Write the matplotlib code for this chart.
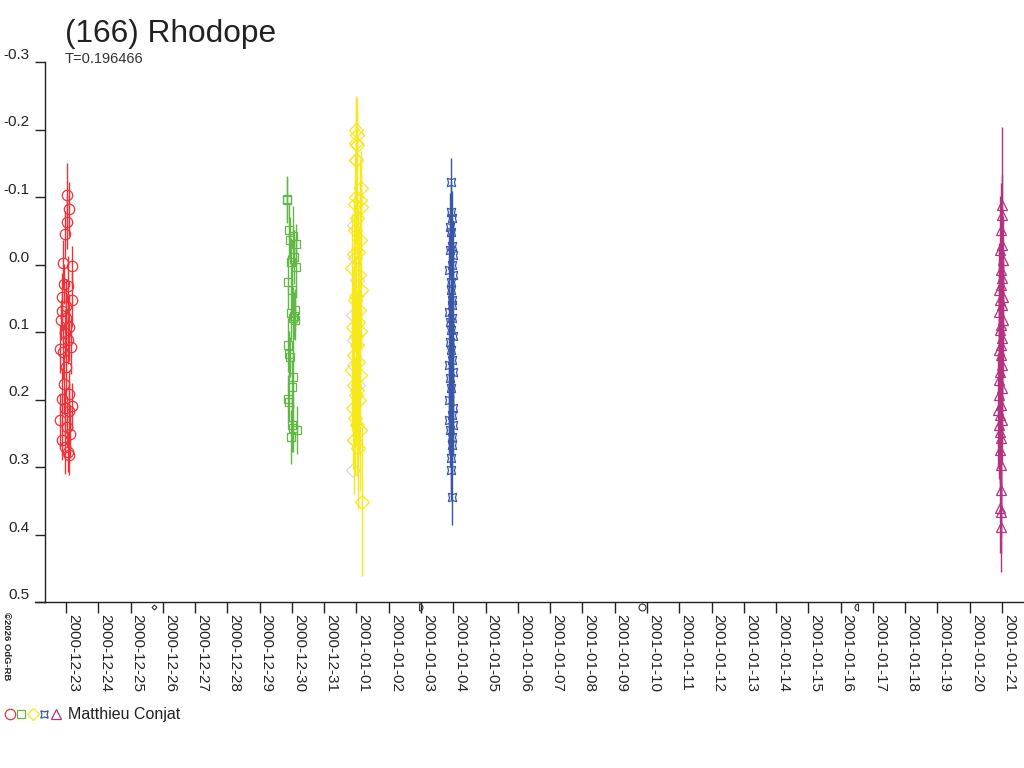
import numpy as np
import matplotlib
matplotlib.use("Agg")
import matplotlib.pyplot as plt
import matplotlib.dates as mdates
from matplotlib.path import Path
from matplotlib.transforms import blended_transform_factory

plt.rcParams['font.family'] = ['Liberation Sans', 'DejaVu Sans']

# ---------------- data ----------------
title = "(166) Rhodope"
subtitle = "T=0.196466"
observer = "Matthieu Conjat"
copyright_txt = "©2026 OdG-RB"

tick_dates = ['2000-12-23', '2000-12-24', '2000-12-25', '2000-12-26', '2000-12-27',
              '2000-12-28', '2000-12-29', '2000-12-30', '2000-12-31', '2001-01-01',
              '2001-01-02', '2001-01-03', '2001-01-04', '2001-01-05', '2001-01-06',
              '2001-01-07', '2001-01-08', '2001-01-09', '2001-01-10', '2001-01-11',
              '2001-01-12', '2001-01-13', '2001-01-14', '2001-01-15', '2001-01-16',
              '2001-01-17', '2001-01-18', '2001-01-19', '2001-01-20', '2001-01-21']
y_ticks = [-0.3, -0.2, -0.1, 0.0, 0.1, 0.2, 0.3, 0.4, 0.5]

# moon phases (new, first quarter, full, last quarter)
moon_times = ['2000-12-25T17:22', '2001-01-02T22:31', '2001-01-09T20:24', '2001-01-16T12:35']
moon_kinds = ['new', 'first', 'full', 'last']

# session 1 (red circles) - hours from night reference
red_night = '2000-12-23T00:00'
red_hours = [-4.4, -4.1, -3.5, -3.3, -3.0, -2.6, -2.4, -2.0, -1.8, -1.5, -1.1, -0.9,
             -0.6, -0.4, -0.1, 0.3, 0.5, 0.8, 1.2, 1.3, 1.7, 2.1, 2.2, 2.6, 2.9, 4.4,
             3.4, 1.0, 4.2, 4.5, -2.8, -0.3, 1.9, 2.4]
red_mag = [0.125, 0.230, 0.082, 0.199, 0.048, 0.260, 0.130, -0.002, 0.177, 0.029,
           0.270, 0.101, 0.213, -0.045, 0.152, 0.061, 0.241, -0.063, 0.112, 0.278,
           0.032, 0.192, -0.082, 0.093, 0.251, 0.002, 0.122, -0.103, 0.210, 0.053,
           0.069, 0.079, 0.217, 0.282]
red_err = [0.035, 0.040, 0.030, 0.045, 0.035, 0.030, 0.040, 0.035, 0.045, 0.030,
           0.040, 0.035, 0.030, 0.035, 0.045, 0.040, 0.030, 0.040, 0.035, 0.030,
           0.045, 0.035, 0.040, 0.050, 0.035, 0.030, 0.040, 0.047, 0.035, 0.040,
           0.030, 0.035, 0.040, 0.030]

# session 2 (green squares)
green_night = '2000-12-30T00:00'
green_hours = [-3.6, -3.4, -2.0, 0.5, -1.2, 3.0, 1.4, -0.4, 3.2, -3.0, 0.2, 2.4,
               -0.9, 1.8, 0.6, 2.0, -2.6, -2.2, -1.6, 1.1, -0.1, -3.2, -2.4, -0.2,
               0.9, 3.5, -1.0]
green_mag = [-0.097, -0.096, -0.051, -0.042, -0.036, -0.030, -0.011, -0.004, 0.004,
             0.026, 0.038, 0.067, 0.072, 0.076, 0.079, 0.082, 0.119, 0.133, 0.137,
             0.167, 0.181, 0.199, 0.204, 0.238, 0.242, 0.245, 0.256]
green_err = [0.031, 0.035, 0.040, 0.045, 0.035, 0.030, 0.040, 0.035, 0.045, 0.040,
             0.035, 0.030, 0.040, 0.035, 0.045, 0.030, 0.040, 0.035, 0.030, 0.045,
             0.040, 0.035, 0.030, 0.040, 0.036, 0.035, 0.040]

# session 3 (yellow diamonds)
yellow_night = '2001-01-01T00:00'
yellow_hours = [-0.4, 0.1, -0.2, 0.3, -0.3, 3.2, -0.5, 2.6, -1.0, 3.0, 0.2, -0.8,
                2.4, 0.9, -1.5, -3.0, 1.6, 3.4, 0.0, -1.2, 2.2, 1.0, -2.8, 2.8,
                -0.6, 0.5, -2.2, 1.4, -3.2, 2.9, -1.8, 0.7, -0.1, 1.9, -2.5, -1.4,
                0.4, 2.6, -2.0, 1.2, 3.8]
yellow_mag = [-0.199, -0.192, -0.180, -0.177, -0.155, -0.113, -0.100, -0.096, -0.090,
              -0.085, -0.069, -0.051, -0.036, -0.019, -0.016, 0.005, 0.016, 0.038,
              0.047, 0.053, 0.067, 0.085, 0.092, 0.098, 0.106, 0.119, 0.134, 0.144,
              0.156, 0.164, 0.179, 0.186, 0.193, 0.201, 0.213, 0.227, 0.238, 0.245,
              0.260, 0.272, 0.352]
yellow_err = [0.050, 0.055, 0.060, 0.050, 0.065, 0.055, 0.070, 0.060, 0.075, 0.065,
              0.060, 0.080, 0.070, 0.065, 0.075, 0.080, 0.070, 0.085, 0.060, 0.075,
              0.080, 0.070, 0.090, 0.075, 0.065, 0.080, 0.085, 0.070, 0.090, 0.080,
              0.085, 0.075, 0.070, 0.080, 0.090, 0.085, 0.075, 0.090, 0.080, 0.090,
              0.110]

# session 3 rejected points (light grey diamonds)
grey_hours = [-0.3, -2.0, -1.2, 0.6, -2.6, -1.6, -2.2, 0.8, -1.8, -2.9]
grey_mag = [-0.155, -0.059, -0.010, 0.023, 0.075, 0.112, 0.149, 0.179, 0.260, 0.304]

# session 4 (blue stars)
blue_night = '2001-01-04T00:00'
blue_hours = [-1.8, -1.7, -1.3, -2.6, -1.5, -0.8, -2.2, -0.6, -1.0, -3.4, -0.5, -2.0,
              -1.9, -0.7, -1.2, -3.0, -0.9, -2.4, -1.6, -0.4, -2.8, -1.4, -1.1, -3.2,
              -0.3, -2.1, -1.7, -2.9, -0.6, -1.3, -3.5, -0.2, -2.5, -1.0, -0.8, -1.9,
              -1.6, -1.0]
blue_mag = [-0.122, -0.078, -0.069, -0.056, -0.048, -0.027, -0.021, -0.014, 0.001,
            0.008, 0.016, 0.026, 0.038, 0.053, 0.060, 0.070, 0.079, 0.085, 0.097,
            0.106, 0.115, 0.127, 0.141, 0.149, 0.159, 0.168, 0.183, 0.201, 0.213,
            0.223, 0.230, 0.238, 0.245, 0.256, 0.267, 0.286, 0.304, 0.344]
blue_err = [0.036, 0.045, 0.040, 0.050, 0.045, 0.055, 0.040, 0.050, 0.045, 0.055,
            0.050, 0.040, 0.060, 0.045, 0.050, 0.040, 0.055, 0.045, 0.050, 0.060,
            0.045, 0.050, 0.055, 0.040, 0.050, 0.045, 0.055, 0.050, 0.045, 0.040,
            0.050, 0.045, 0.055, 0.050, 0.045, 0.050, 0.045, 0.042]

# session 5 (magenta triangles)
mag_night = '2001-01-21T00:00'
mag_hours = [-0.4, 0.1, -0.9, -0.2, -1.6, 0.4, -1.0, 0.2, -0.6, -2.0, 0.6, -1.3,
             -0.1, -2.4, 0.5, -0.8, -1.8, 0.3, -1.1, -2.6, -0.5, 0.0, -1.5, -2.2,
             -0.3, -1.9, -0.7, -2.8, -1.2, 0.2, -2.5, -1.4, -0.9, -1.7, -1.0, -0.8,
             -1.2, -0.9, -1.1]
mag_mag = [-0.088, -0.073, -0.051, -0.029, -0.021, -0.007, 0.008, 0.020, 0.030, 0.038,
           0.048, 0.053, 0.060, 0.070, 0.082, 0.090, 0.097, 0.109, 0.119, 0.127,
           0.134, 0.149, 0.159, 0.171, 0.183, 0.193, 0.208, 0.216, 0.223, 0.230,
           0.238, 0.248, 0.257, 0.275, 0.297, 0.334, 0.361, 0.367, 0.389]
mag_err = [0.116, 0.060, 0.070, 0.055, 0.080, 0.065, 0.075, 0.060, 0.090, 0.070,
           0.065, 0.080, 0.060, 0.075, 0.085, 0.070, 0.065, 0.080, 0.090, 0.070,
           0.075, 0.065, 0.085, 0.070, 0.080, 0.060, 0.075, 0.085, 0.070, 0.065,
           0.080, 0.075, 0.070, 0.060, 0.065, 0.070, 0.066, 0.060, 0.066]

# ---------------- helpers ----------------
def to_num(night, hours):
    base = np.datetime64(night)
    secs = (np.asarray(hours) * 3600).astype('int64').astype('timedelta64[s]')
    return mdates.date2num(base + secs)

# custom markers
star_marker = (4, 1, 45)
theta = np.linspace(-90, 90, 20)
half_r = Path(np.column_stack([np.cos(np.radians(theta)), np.sin(np.radians(theta))]).tolist()
              + [[0, -1]], closed=False)
theta_l = np.linspace(90, 270, 20)
half_l = Path(np.column_stack([np.cos(np.radians(theta_l)), np.sin(np.radians(theta_l))]).tolist()
              + [[0, 1]], closed=False)

# ---------------- figure ----------------
fig = plt.figure(figsize=(10.24, 7.68), dpi=100)
ax = fig.add_axes([45 / 1024, 1 - 602 / 768, 1 - 45 / 1024, (602 - 62) / 768])

series = [
    (red_night, red_hours, red_mag, red_err, '#ee3338', 'o', 7.5),
    (green_night, green_hours, green_mag, green_err, '#62b846', 's', 6.0),
    (yellow_night, yellow_hours, yellow_mag, yellow_err, '#f7e81a', 'D', 6.8),
    (blue_night, blue_hours, blue_mag, blue_err, '#3a56a6', star_marker, 8.5),
    (mag_night, mag_hours, mag_mag, mag_err, '#b3337f', '^', 7.0),
]

# grey rejected points first (behind)
ax.plot(to_num(yellow_night, grey_hours), grey_mag, linestyle='none', marker='D',
        markersize=6.8, markerfacecolor='none', markeredgecolor='#d9d9d9',
        markeredgewidth=0.9, zorder=2)

for night, hrs, m, e, col, mk, ms in series:
    x = to_num(night, hrs)
    ax.errorbar(x, m, yerr=e, fmt='none', ecolor=col, elinewidth=1.0, capsize=0, zorder=3)
    ax.plot(x, m, linestyle='none', marker=mk, markersize=ms, markerfacecolor='none',
            markeredgecolor=col, markeredgewidth=0.9, zorder=4)

# axes setup
tick_nums = mdates.date2num(np.array(tick_dates, dtype='datetime64[D]'))
ax.set_xlim(tick_nums[0] - 0.65, tick_nums[-1] + 0.68)
ax.set_ylim(y_ticks[-1], y_ticks[0])

ax.set_xticks(tick_nums)
ax.set_xticklabels(tick_dates, rotation=-90, ha='left', va='top', fontsize=11,
                   color='#222222')
ax.set_yticks(y_ticks)
ax.set_yticklabels([f"{v:.1f}" for v in y_ticks], fontsize=11, color='#222222',
                   va='bottom')

for s in ['top', 'right']:
    ax.spines[s].set_visible(False)
for s in ['left', 'bottom']:
    ax.spines[s].set_color('#222222')
    ax.spines[s].set_linewidth(1.0)
ax.tick_params(axis='x', direction='out', length=8, width=1.0, pad=1, colors='#222222')
ax.tick_params(axis='y', direction='out', length=7, width=1.0, pad=4, colors='#222222')
ax.yaxis.set_tick_params(pad=4)
for lbl in ax.get_yticklabels():
    lbl.set_y(lbl.get_position()[1])

# bottom axis line extends slightly left of the y axis
ax.plot([-10 / 979, 0], [0, 0], color='#222222', linewidth=1.0,
        transform=ax.transAxes, clip_on=False)

# moon phases below axis
trans = blended_transform_factory(ax.transData, ax.transAxes)
moon_x = mdates.date2num(np.array(moon_times, dtype='datetime64[m]'))
moon_markers = {'new': ('D', 2.5), 'first': (half_r, 5), 'full': ('o', 5), 'last': (half_l, 5)}
for xm, kind in zip(moon_x, moon_kinds):
    mk, ms = moon_markers[kind]
    ax.plot([xm], [-0.010], marker=mk, markersize=ms, markerfacecolor='none',
            markeredgecolor='#333333', markeredgewidth=0.8, transform=trans, clip_on=False)

# titles
fig.text(65 / 1024, 1 - 42 / 768, title, fontsize=22.8, color='#222222', ha='left',
         va='baseline')
fig.text(65 / 1024, 1 - 63 / 768, subtitle, fontsize=10.5, color='#333333', ha='left',
         va='baseline')

# copyright
fig.text(2 / 1024, 1 - 612 / 768, copyright_txt, fontsize=6.8, rotation=-90, ha='left',
         va='top', color='#222222', fontweight='bold')

# legend row
leg_cols = [s[4] for s in series]
leg_mk = [s[5] for s in series]
leg_x = [10, 21, 33, 44, 56]
leg_ms = [7.5, 6, 6.5, 7.5, 7]
for lx, col, mk, ms in zip(leg_x, leg_cols, leg_mk, leg_ms):
    ax.plot([lx / 1024], [1 - 714 / 768], marker=mk, markersize=ms,
            markerfacecolor='none', markeredgecolor=col, markeredgewidth=0.9,
            transform=fig.transFigure, clip_on=False)
fig.text(68 / 1024, 1 - 714 / 768, observer, fontsize=11.5, color='#222222',
         ha='left', va='center')

fig.savefig('out.png', dpi=100)
